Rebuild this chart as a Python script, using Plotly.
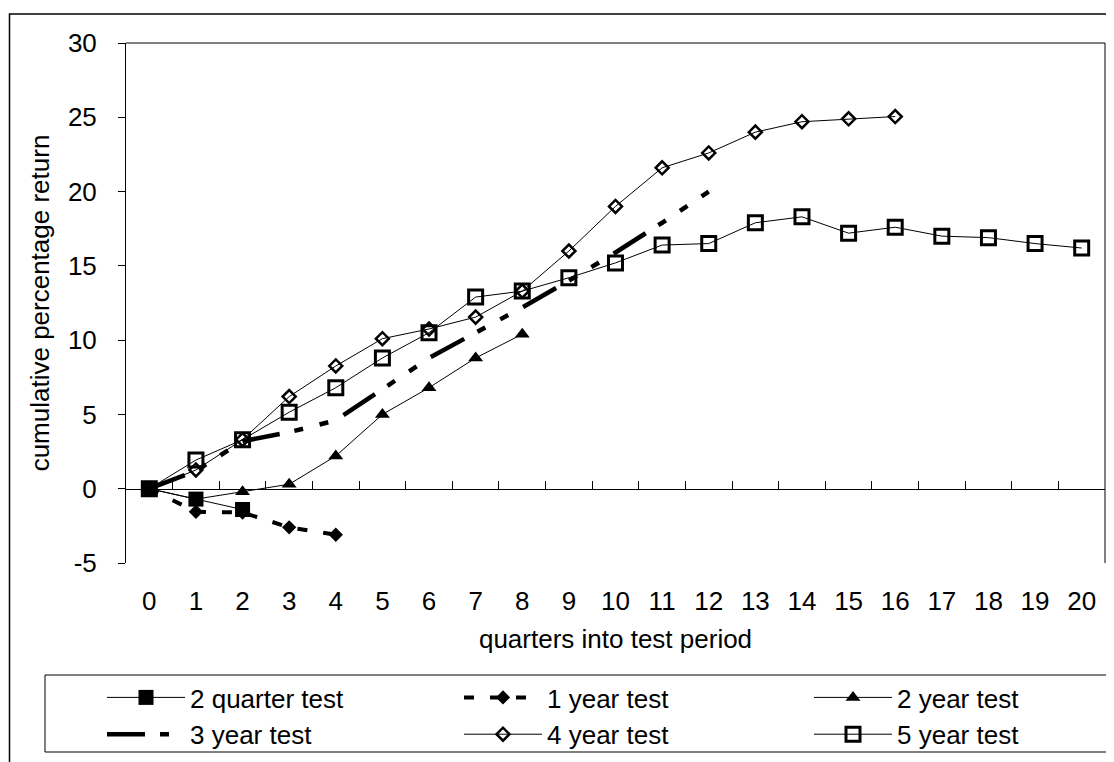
import plotly.graph_objects as go

# ---- data ----
quarters = list(range(0, 21))
q2_test = [0, -0.7, -1.4]
y1_test = [0, -1.55, -1.6, -2.6, -3.1]
y2_test = [0, -0.7, -0.2, 0.3, 2.2, 5.0, 6.8, 8.8, 10.4]
y3_test = [0, 1.2, 3.2, 3.8, 4.6, 6.7, 8.8, 10.5, 12.2, 14.0, 15.9, 17.9, 20.0]
y4_test = [0, 1.26, 3.3, 6.2, 8.26, 10.1, 10.75, 11.55, 13.3, 16.0, 19.0, 21.6,
           22.6, 24.0, 24.7, 24.9, 25.05]
y5_test = [0, 1.93, 3.3, 5.15, 6.8, 8.8, 10.5, 12.9, 13.3, 14.2, 15.2, 16.4,
           16.5, 17.9, 18.3, 17.2, 17.6, 17.0, 16.9, 16.5, 16.2]
y_ticks = [-5, 0, 5, 10, 15, 20, 25, 30]
y_ticktext = ["-5", "0", "5", "10", "15", "20", "25", "30"]

FONT = "Liberation Sans, Arial, sans-serif"
FS = 26

# page body has an 8px margin: work in page pixels and subtract it
OFF = 8
W, H = 1114 - OFF, 762 - OFF
L, R, T, B = 126, 1105, 43, 563          # plot area in page pixels
pw, ph = R - L, B - T


def px(x):
    return (x - L) / pw


def py(y):
    return (B - y) / ph


fig = go.Figure()

fig.add_trace(go.Scatter(
    x=quarters[:len(q2_test)], y=q2_test, name="2 quarter test", mode="lines+markers",
    legend="legend",
    line=dict(color="black", width=1),
    marker=dict(symbol="square", size=15, color="black")))
fig.add_trace(go.Scatter(
    x=quarters[:len(y1_test)], y=y1_test, name="1 year test", mode="lines+markers",
    legend="legend2",
    line=dict(color="black", width=4, dash="10px,16px"),
    marker=dict(symbol="diamond", size=11, color="black")))
fig.add_trace(go.Scatter(
    x=quarters[:len(y2_test)], y=y2_test, name="2 year test", mode="lines+markers",
    legend="legend3",
    line=dict(color="black", width=1),
    marker=dict(symbol="triangle-up", size=13, color="black")))
fig.add_trace(go.Scatter(
    x=quarters[:len(y3_test)], y=y3_test, name="3 year test", mode="lines",
    legend="legend",
    line=dict(color="black", width=4.5, dash="38px,15px,9px,17px,9px,17px")))
fig.add_trace(go.Scatter(
    x=quarters[:len(y4_test)], y=y4_test, name="4 year test", mode="lines+markers",
    legend="legend2",
    line=dict(color="black", width=1),
    marker=dict(symbol="diamond-open", size=10, color="black", line=dict(width=2.5))))
fig.add_trace(go.Scatter(
    x=quarters[:len(y5_test)], y=y5_test, name="5 year test", mode="lines+markers",
    legend="legend3",
    line=dict(color="black", width=1),
    marker=dict(symbol="square-open", size=14, color="black", line=dict(width=3))))
# invisible helper trace on the zero-line axis
fig.add_trace(go.Scatter(x=[quarters[0]], y=[0], xaxis="x2", mode="markers",
                         marker=dict(opacity=0), showlegend=False, hoverinfo="skip"))


def leg(x_origin):
    return dict(orientation="v", x=px(x_origin), y=py(674), xanchor="left",
                yanchor="top", bgcolor="rgba(0,0,0,0)", borderwidth=0,
                itemwidth=78, traceorder="normal", tracegroupgap=0,
                font=dict(family=FONT, size=FS, color="black"))


fig.update_layout(
    width=W, height=H,
    margin=dict(l=L - OFF, r=W - (R - OFF), t=T - OFF, b=H - (B - OFF),
                autoexpand=False),
    paper_bgcolor="white", plot_bgcolor="white",
    font=dict(family=FONT, size=FS, color="black"),
    showlegend=True,
    legend=leg(102),
    legend2=leg(459),
    legend3=leg(809),
    xaxis=dict(range=[-0.5, 20.5], tickvals=quarters, ticktext=[str(q) for q in quarters],
               showline=False, showgrid=False, zeroline=False, ticks="",
               ticklabelstandoff=20, automargin=False,
               title=dict(text="quarters into test period", standoff=14,
                          font=dict(size=FS))),
    xaxis2=dict(range=[-0.5, 20.5], overlaying="x", anchor="free", position=py(488.7),
                showline=True, linecolor="black", linewidth=1,
                ticks="inside", ticklen=8, tickcolor="black", tickwidth=1,
                tickvals=[q + 0.5 for q in quarters[:-1]], showticklabels=False,
                showgrid=False, zeroline=False),
    yaxis=dict(range=[-5, 30], tickvals=y_ticks, ticktext=y_ticktext,
               showline=True, linecolor="black", automargin=False,
               linewidth=1, ticks="outside", ticklen=7, tickcolor="black",
               showgrid=False, zeroline=False, ticklabelstandoff=16,
               title=dict(text="cumulative percentage return", standoff=10,
                          font=dict(size=FS))),
    shapes=[
        # plot-area top and right borders
        dict(type="line", xref="paper", yref="paper", x0=0, x1=1, y0=1, y1=1,
             line=dict(color="black", width=1)),
        dict(type="line", xref="paper", yref="paper", x0=1, x1=1, y0=0, y1=1,
             line=dict(color="black", width=1)),
        # legend box
        dict(type="rect", xref="paper", yref="paper", x0=px(45), x1=px(1107),
             y0=py(752), y1=py(675), line=dict(color="black", width=1), layer="below"),
        # outer frame
        dict(type="rect", xref="paper", yref="paper", x0=px(9.5), x1=px(1130),
             y0=py(780), y1=py(14), line=dict(color="black", width=1.5)),
    ],
)

fig.write_html("out.html")
